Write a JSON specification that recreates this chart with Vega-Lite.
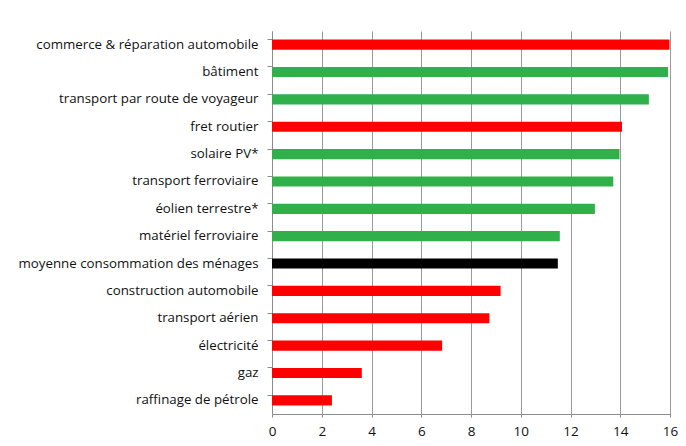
{
  "$schema": "https://vega.github.io/schema/vega-lite/v6.json",
  "width": 398,
  "height": 383,
  "autosize": {"type": "none"},
  "padding": {"left": 272, "top": 31, "right": 16, "bottom": 32},
  "background": "white",
  "data": {
    "values": [
      {"secteur": "commerce & réparation automobile", "valeur": 15.98, "type": "carbone"},
      {"secteur": "bâtiment", "valeur": 15.92, "type": "vert"},
      {"secteur": "transport par route de voyageur", "valeur": 15.15, "type": "vert"},
      {"secteur": "fret routier", "valeur": 14.07, "type": "carbone"},
      {"secteur": "solaire PV*", "valeur": 13.97, "type": "vert"},
      {"secteur": "transport ferroviaire", "valeur": 13.72, "type": "vert"},
      {"secteur": "éolien terrestre*", "valeur": 12.98, "type": "vert"},
      {"secteur": "matériel ferroviaire", "valeur": 11.57, "type": "vert"},
      {"secteur": "moyenne consommation des ménages", "valeur": 11.49, "type": "moyenne"},
      {"secteur": "construction automobile", "valeur": 9.19, "type": "carbone"},
      {"secteur": "transport aérien", "valeur": 8.74, "type": "carbone"},
      {"secteur": "électricité", "valeur": 6.84, "type": "carbone"},
      {"secteur": "gaz", "valeur": 3.61, "type": "carbone"},
      {"secteur": "raffinage de pétrole", "valeur": 2.41, "type": "carbone"}
    ]
  },
  "mark": {"type": "bar"},
  "encoding": {
    "y": {
      "field": "secteur",
      "type": "nominal",
      "sort": null,
      "title": null,
      "scale": {"paddingInner": 0.63, "paddingOuter": 0.315},
      "axis": {
        "bandPosition": 0,
        "ticks": true,
        "tickSize": 5,
        "tickWidth": 1,
        "tickColor": "#8c8c8c",
        "domainColor": "#8c8c8c",
        "labelPadding": 9,
        "labelFont": "Open Sans",
        "labelFontSize": 13.3,
        "labelColor": "#111111",
        "labelLimit": 300,
        "grid": false
      }
    },
    "x": {
      "field": "valeur",
      "type": "quantitative",
      "title": null,
      "scale": {"domain": [0, 16], "nice": false},
      "axis": {
        "values": [0, 2, 4, 6, 8, 10, 12, 14, 16],
        "grid": true,
        "gridColor": "#9a9a9a",
        "gridWidth": 1,
        "tickSize": 3,
        "tickColor": "#8c8c8c",
        "domainColor": "#8c8c8c",
        "labelPadding": 7,
        "labelFont": "Open Sans",
        "labelFontSize": 13.5,
        "labelColor": "#111111",
        "labelFlush": false
      }
    },
    "color": {
      "field": "type",
      "type": "nominal",
      "scale": {"domain": ["carbone", "vert", "moyenne"], "range": ["#ff0000", "#2fb04a", "#000000"]},
      "legend": null
    }
  },
  "config": {"view": {"stroke": null}}
}
